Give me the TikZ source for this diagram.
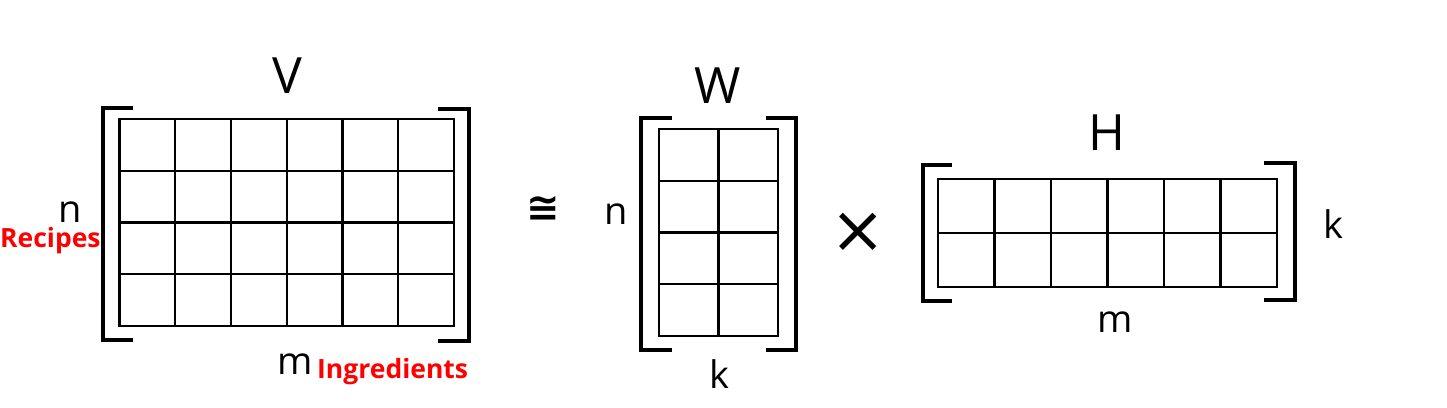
\documentclass[tikz,border=0pt]{standalone}
\usepackage{fontspec}
\setmainfont{Open Sans}
\newfontfamily\symfont{DejaVu Sans}

\tikzset{
  cell/.style={line width=2.2pt},
  brak/.style={line width=3.6pt},
  mname/.style={inner sep=0pt, anchor=base, font=\fontsize{50}{60}\selectfont},
  mdim/.style={inner sep=0pt, anchor=base, font=\fontsize{38}{46}\selectfont},
  tag/.style={inner sep=0pt, anchor=base west, text=red, font=\bfseries\fontsize{26.5}{31}\selectfont},
}

\begin{document}
\begin{tikzpicture}[x=1pt,y=-1pt]
    \useasboundingbox (0,0) rectangle (1447,407);

    % V
    \begin{scope}[shift={(119.5,119)}]
        \draw[cell] (0,0) rectangle (334.5,207);
        \foreach \i in {1,...,5} \draw[cell] (\i*55.75,0) -- (\i*55.75,207);
        \foreach \j in {1,2,3} \draw[cell] (0,\j*51.75) -- (334.5,\j*51.75);
    \end{scope}
    \draw[brak] (133,108)--(103,108)--(103,340)--(133,340);
    \draw[brak] (438,109)--(469,109)--(469,341)--(438,341);
    \node[mname] (V) at (287,93) {V};
    \node[mdim] (Vn) at (70,222) {n};
    \node[tag] (recipes) at (0,247) {Recipes};
    \node[mdim] (Vm) at (295,374) {m};
    \node[tag] (ingredients) at (317,378) {Ingredients};

    \node[font=\symfont\bfseries\fontsize{40}{48}\selectfont] (approx) at (543,209) {≅};

    % W
    \begin{scope}[shift={(659,129)}]
        \draw[cell] (0,0) rectangle (119,207);
        \draw[cell] (59.5,0) -- (59.5,207);
        \foreach \j in {1,2,3} \draw[cell] (0,\j*51.75) -- (119,\j*51.75);
    \end{scope}
    \draw[brak] (672,118)--(641,118)--(641,350)--(672,350);
    \draw[brak] (766,118)--(796,118)--(796,350)--(766,350);
    \node[mname] (W) at (718,103) {W};
    \node[mdim] (Wn) at (616,224) {n};
    \node[mdim] (Wk) at (719,388) {k};

    \node[font=\symfont\fontsize{66}{72}\selectfont] (times) at (858,233) {×};

    % H
    \begin{scope}[shift={(938,179)}]
        \draw[cell] (0,0) rectangle (339,108);
        \foreach \i in {1,...,5} \draw[cell] (\i*56.5,0) -- (\i*56.5,108);
        \draw[cell] (0,54) -- (339,54);
    \end{scope}
    \draw[brak] (952,165)--(923,165)--(923,301)--(952,301);
    \draw[brak] (1264,163)--(1295,163)--(1295,300)--(1264,300);
    \node[mname] (H) at (1107,150) {H};
    \node[mdim] (Hk) at (1333,238) {k};
    \node[mdim] (Hm) at (1115,332) {m};
\end{tikzpicture}
\end{document}
